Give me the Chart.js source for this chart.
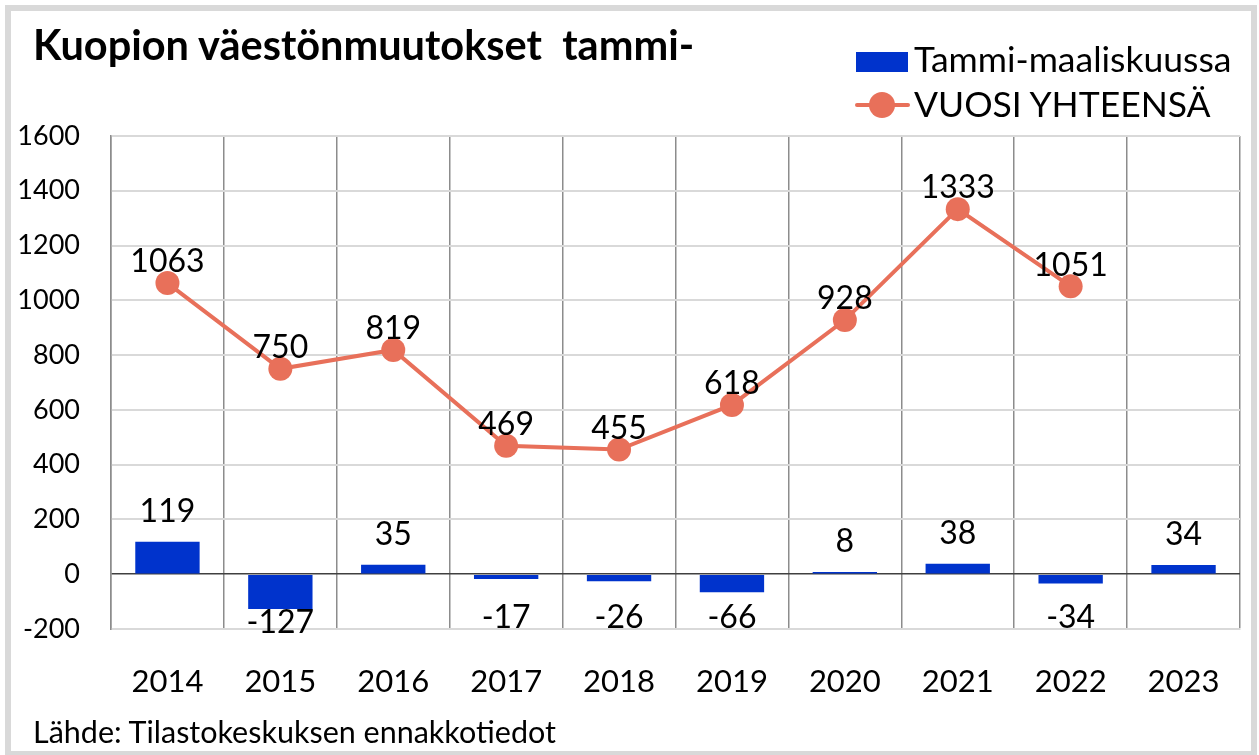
<!DOCTYPE html>
<html>
<head>
<meta charset="utf-8">
<script src="https://cdn.jsdelivr.net/npm/chart.js@4/dist/chart.umd.min.js"></script>
<style>
  html, body { margin:0; padding:0; background:#fff; }
  body { width:1259px; height:755px; position:relative; overflow:hidden; font-family: Lato, "Open Sans", sans-serif; }
  #frame { position:absolute; left:5px; top:5px; width:1240px; height:740px; border:6px solid #d9d9d9; }
  #wrap { position:absolute; left:0; top:0; width:1259px; height:755px; }
  #title { position:absolute; left:33px; top:24px; font: bold 41.5px Lato, sans-serif; line-height:41.5px; color:#000; white-space:pre; }
  .leg { position:absolute; left:914px; font: 35.5px Lato, sans-serif; line-height:35.5px; color:#000; white-space:nowrap; }
  #legbar { position:absolute; left:856px; top:52px; width:52px; height:20px; background:#0033CC; }
  #legline { position:absolute; left:855px; top:103px; width:55px; height:4px; background:#E8705A; border-radius:2px; }
  #legdot { position:absolute; left:869px; top:92px; width:26px; height:26px; border-radius:50%; background:#E8705A; }
  #source { position:absolute; left:33px; top:716px; font: 30.5px Lato, sans-serif; line-height:30.5px; color:#000; white-space:nowrap; }
</style>
</head>
<body>
<div id="frame"></div>
<div id="wrap"><canvas id="c" width="1259" height="755"></canvas></div>
<div id="title">Kuopion väestönmuutokset  tammi-</div>
<div id="legbar"></div>
<div class="leg" style="top:41px;">Tammi-maaliskuussa</div>
<div id="legline"></div>
<div id="legdot"></div>
<div class="leg" style="top:86px;">VUOSI YHTEENSÄ</div>
<div id="source">Lähde: Tilastokeskuksen ennakkotiedot</div>
<script>
const years = ['2014','2015','2016','2017','2018','2019','2020','2021','2022','2023'];
const q1Values = [119, -127, 35, -17, -26, -66, 8, 38, -34, 34];
const yearTotals = [1063, 750, 819, 469, 455, 618, 928, 1333, 1051, null];
const yMin = -200, yMax = 1600, yStep = 200;

const barColor = '#0033CC';
const lineColor = '#E8705A';

const labelPlugin = {
  id: 'valueLabels',
  afterDatasetsDraw(chart) {
    const ctx = chart.ctx;
    const yScale = chart.scales.y;
    ctx.save();
    ctx.font = '32px Lato, sans-serif';
    ctx.fillStyle = '#000';
    ctx.textAlign = 'center';
    ctx.textBaseline = 'middle';
    chart.data.datasets.forEach((ds, di) => {
      const meta = chart.getDatasetMeta(di);
      meta.data.forEach((el, i) => {
        const v = ds.data[i];
        if (v === null || v === undefined) return;
        const p = el.getProps(['x', 'y'], true);
        let ty;
        if (ds.type === 'bar') {
          ty = v >= 0 ? p.y - 30 : Math.max(p.y + 14, yScale.getPixelForValue(-160));
        } else {
          ty = p.y - 21;
        }
        ctx.fillText(String(v), p.x, ty);
      });
    });
    ctx.restore();
  }
};

new Chart(document.getElementById('c'), {
  type: 'bar',
  data: {
    labels: years,
    datasets: [
      {
        type: 'line',
        label: 'VUOSI YHTEENSÄ',
        data: yearTotals,
        order: 0,
        borderColor: lineColor,
        backgroundColor: lineColor,
        borderWidth: 4,
        pointRadius: 12,
        pointBackgroundColor: lineColor,
        pointBorderColor: lineColor,
        pointBorderWidth: 0,
        tension: 0,
        spanGaps: false
      },
      {
        type: 'bar',
        label: 'Tammi-maaliskuussa',
        data: q1Values,
        order: 1,
        backgroundColor: barColor,
        barPercentage: 0.57,
        categoryPercentage: 1.0
      }
    ]
  },
  options: {
    responsive: false,
    animation: false,
    layout: { padding: { top: 136, right: 19, left: 0, bottom: 0 } },
    plugins: { legend: { display: false }, tooltip: { enabled: false } },
    scales: {
      x: {
        offset: true,
        grid: { color: '#8c8c8c', lineWidth: 1.5, offset: true, drawTicks: false },
        border: { display: true, color: '#d9d9d9', width: 2 },
        ticks: { color: '#000', font: { family: 'Lato', size: 31 }, padding: 34 },
        afterFit(s) { s.height = 126; }
      },
      y: {
        min: yMin, max: yMax,
        ticks: { stepSize: yStep, color: '#000', font: { family: 'Lato', size: 27 }, padding: 31,
                 callback: (v) => String(v) },
        grid: {
          drawTicks: false,
          color: (c) => (c.tick && c.tick.value === 0) ? '#404040' : '#d9d9d9',
          lineWidth: (c) => (c.tick && c.tick.value === 0) ? 1.5 : 2
        },
        border: { display: true, color: '#8c8c8c', width: 1.5 },
        afterFit(s) { s.width = 111; }
      }
    }
  },
  plugins: [labelPlugin]
});
</script>
</body>
</html>
